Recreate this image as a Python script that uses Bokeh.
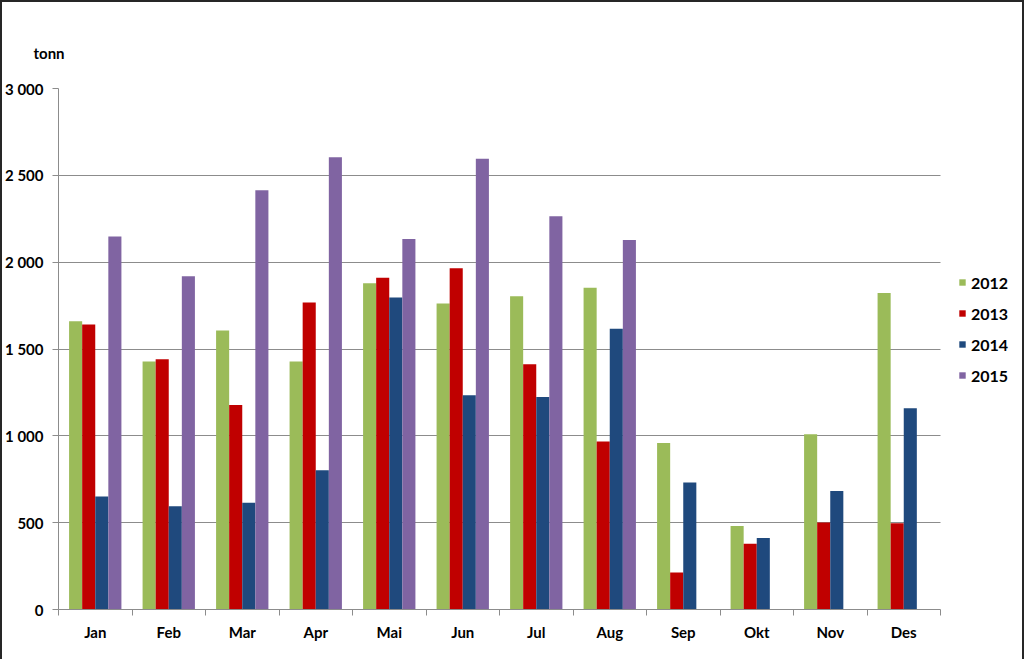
from bokeh.plotting import figure
from bokeh.models import Range1d, FixedTicker, Legend, LegendItem, ColumnDataSource
from bokeh.embed import file_html
from bokeh.resources import INLINE

months = ["Jan", "Feb", "Mar", "Apr", "Mai", "Jun", "Jul", "Aug", "Sep", "Okt", "Nov", "Des"]
years = ["2012", "2013", "2014", "2015"]
v2012 = [1660, 1428, 1607, 1428, 1879, 1762, 1804, 1852, 959, 481, 1009, 1823]
v2013 = [1641, 1441, 1178, 1768, 1910, 1965, 1412, 967, 213, 378, 501, 497]
v2014 = [651, 595, 614, 802, 1796, 1234, 1224, 1616, 731, 411, 683, 1159]
v2015 = [2148, 1919, 2414, 2604, 2134, 2595, 2265, 2128, None, None, None, None]
series = [v2012, v2013, v2014, v2015]
colors = ["#9BBB59", "#C00000", "#1F497D", "#8064A2"]
y_ticks = [0, 500, 1000, 1500, 2000, 2500, 3000]
y_tick_labels = ["0", "500", "1 000", "1 500", "2 000", "2 500", "3 000"]
unit_label = "tonn"

FONT = "Lato"
AXIS_COLOR = "#8C8C8C"

# plot area spans 12 months (58..940 px); the frame is extended to the right
# so that the legend (at ~960 px) lies inside the drawable area
n = len(months)
x_end = n * (1020 - 58) / (940 - 58)

p = figure(width=1024, height=659, output_backend="svg", toolbar_location=None,
           x_range=Range1d(0, x_end), y_range=Range1d(0, 3000),
           min_border_left=58, min_border_right=4, min_border_top=88, min_border_bottom=50)
p.border_fill_color = None
p.background_fill_color = None
p.outline_line_color = None
p.styles = {"background-color": "white",
            "box-shadow": "inset 2px 2px 0 #262626, inset -2px 0 0 #262626"}

p.title.text = unit_label
p.title.align = "left"
p.title.offset = -25
p.title.standoff = 54
p.title.text_font = FONT
p.title.text_font_style = "bold"
p.title.text_font_size = "15px"
p.title.text_color = "#000000"

bw = 0.178
offsets = [-1.5, -0.5, 0.5, 1.5]
renderers = []
for vals, col, off in zip(series, colors, offsets):
    xs = [i + 0.5 + off * bw for i, v in enumerate(vals) if v is not None]
    tops = [v for v in vals if v is not None]
    src = ColumnDataSource(dict(x=xs, top=tops))
    r = p.vbar(x="x", top="top", width=bw, source=src, fill_color=col, line_color=None)
    renderers.append(r)

# y axis
p.yaxis.ticker = FixedTicker(ticks=y_ticks)
p.yaxis.major_label_overrides = {t: l for t, l in zip(y_ticks, y_tick_labels)}
p.yaxis.minor_tick_line_color = None
p.yaxis.major_tick_in = 0
p.yaxis.major_tick_out = 6
p.yaxis.major_label_standoff = 9
p.yaxis.axis_line_color = AXIS_COLOR
p.yaxis.major_tick_line_color = AXIS_COLOR
p.yaxis.major_label_text_font = FONT
p.yaxis.major_label_text_font_style = "bold"
p.yaxis.major_label_text_font_size = "15px"
p.yaxis.major_label_text_color = "#000000"

# x axis
centers = [i + 0.5 for i in range(n)]
p.xaxis.ticker = FixedTicker(ticks=centers, minor_ticks=list(range(n + 1)))
p.xaxis.major_label_overrides = {c: m for c, m in zip(centers, months)}
p.xaxis.bounds = (0, n)
p.xaxis.major_tick_line_color = None
p.xaxis.minor_tick_in = 0
p.xaxis.minor_tick_out = 6
p.xaxis.minor_tick_line_color = AXIS_COLOR
p.xaxis.axis_line_color = AXIS_COLOR
p.xaxis.major_label_standoff = 7
p.xaxis.major_label_text_font = FONT
p.xaxis.major_label_text_font_style = "bold"
p.xaxis.major_label_text_font_size = "15px"
p.xaxis.major_label_text_color = "#000000"

p.xgrid.grid_line_color = None
p.ygrid.ticker = FixedTicker(ticks=y_ticks)
p.ygrid.cross_bounds = (0, n)
p.ygrid.grid_line_color = AXIS_COLOR
p.ygrid.grid_line_width = 1

legend = Legend(items=[LegendItem(label=y, renderers=[r]) for y, r in zip(years, renderers)],
                location=(900, 224), orientation="vertical",
                glyph_width=8, glyph_height=8, label_height=20, spacing=11,
                padding=0, margin=0, border_line_color=None, background_fill_alpha=0,
                label_text_font=FONT, label_text_font_style="bold",
                label_text_color="#000000",
                label_text_font_size="16px", label_standoff=5)
p.add_layout(legend, "center")

open("out.html", "w").write(file_html(p, INLINE))
